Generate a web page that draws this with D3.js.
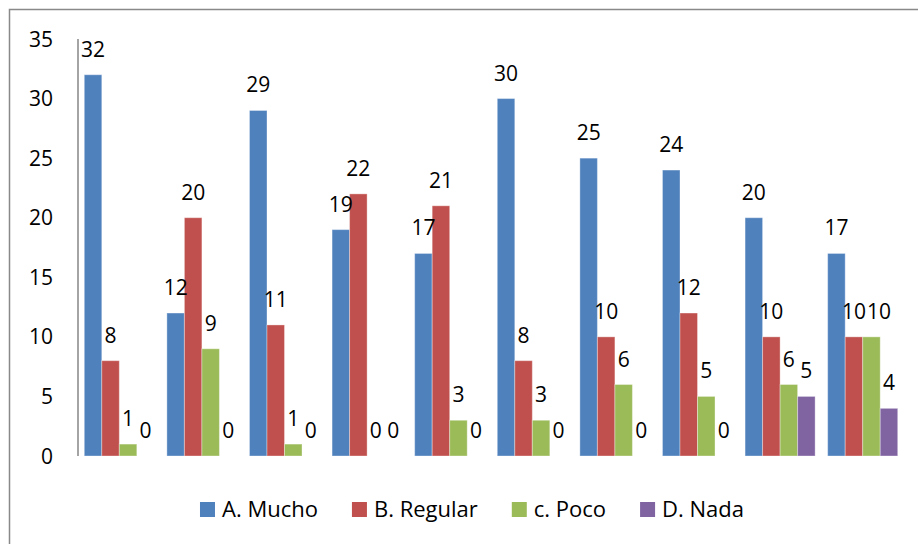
<!DOCTYPE html>
<html>
<head>
<meta charset="utf-8">
<script src="https://cdn.jsdelivr.net/npm/d3@7"></script>
<style>
  html, body { margin: 0; padding: 0; background: #fff; }
  svg { display: block; }
</style>
</head>
<body>
<svg id="chart" width="918" height="544"></svg>
<script>
const groups = ["1", "2", "3", "4", "5", "6", "7", "8", "9", "10"];
const seriesNames = ["A. Mucho", "B. Regular", "c. Poco", "D. Nada"];
const mucho   = [32, 12, 29, 19, 17, 30, 25, 24, 20, 17];
const regular = [8, 20, 11, 22, 21, 8, 10, 12, 10, 10];
const poco    = [1, 9, 1, 0, 3, 3, 6, 5, 6, 10];
const nada    = [0, 0, 0, 0, 0, 0, 0, 0, 5, 4];
const yTicks  = [0, 5, 10, 15, 20, 25, 30, 35];

const seriesValues = [mucho, regular, poco, nada];
const colors = ["#4F81BD", "#C0504D", "#9BBB59", "#8064A2"];
const FONT = "'Open Sans', sans-serif";

const svg = d3.select("#chart");

// outer frame (runs off the right and bottom edges)
svg.append("rect")
    .attr("x", 9.5).attr("y", 9.5)
    .attr("width", 930).attr("height", 560)
    .attr("fill", "none")
    .attr("stroke", "#898989")
    .attr("stroke-width", 1.5);

const x0 = d3.scaleBand().domain(groups).range([78, 904]).paddingInner(0.152).paddingOuter(0.076);
const x1 = d3.scaleBand().domain(d3.range(4)).range([0, x0.bandwidth()]);
const y = d3.scaleLinear().domain([0, 35]).range([456, 39]);

// y tick labels
svg.append("g").selectAll("text")
    .data(yTicks)
    .join("text")
    .attr("x", 53)
    .attr("y", d => y(d))
    .attr("dy", "0.36em")
    .attr("text-anchor", "end")
    .attr("font-family", FONT)
    .attr("font-size", 21)
    .attr("fill", "#000")
    .text(d => d);

// y axis line
svg.append("line")
    .attr("x1", 78).attr("x2", 78)
    .attr("y1", y(35)).attr("y2", y(0))
    .attr("stroke", "#868686")
    .attr("stroke-width", 1.5);

const cells = [];
groups.forEach((g, gi) => {
    seriesValues.forEach((vals, si) => {
        cells.push({ group: g, gi: gi, si: si, value: vals[gi] });
    });
});

svg.append("g").selectAll("rect")
    .data(cells)
    .join("rect")
    .attr("x", d => x0(d.group) + x1(d.si))
    .attr("y", d => y(d.value))
    .attr("width", x1.bandwidth())
    .attr("height", d => y(0) - y(d.value))
    .attr("fill", d => colors[d.si])
    .attr("stroke", "rgba(255,255,255,0.35)")
    .attr("stroke-width", 1);

// data labels, nudged right when they would collide with the previous one
const labelG = svg.append("g");
groups.forEach((g, gi) => {
    let prev = null;
    seriesValues.forEach((vals, si) => {
        const v = vals[gi];
        const cx = x0(g) + x1(si) + x1.bandwidth() / 2;
        const by = y(v) - 18;
        const t = labelG.append("text")
            .attr("x", cx)
            .attr("y", by)
            .attr("text-anchor", "middle")
            .attr("font-family", FONT)
            .attr("font-size", 21)
            .attr("fill", "#000")
            .text(v);
        const w = t.node().getComputedTextLength();
        let left = cx - w / 2;
        if (prev && Math.abs(prev.y - by) < 16 && left < prev.right + 1) {
            left = prev.right + 1;
            t.attr("x", left + w / 2);
        }
        prev = { right: left + w, y: by };
    });
});

// legend
const legend = svg.append("g");
let lx = 0;
const legendGap = 34;
seriesNames.forEach((name, i) => {
    const item = legend.append("g").attr("transform", `translate(${lx},0)`);
    item.append("rect")
        .attr("x", 0).attr("y", 502)
        .attr("width", 15).attr("height", 15)
        .attr("fill", colors[i]);
    const t = item.append("text")
        .attr("x", 22).attr("y", 517)
        .attr("font-family", FONT)
        .attr("font-size", 22)
        .attr("fill", "#000")
        .text(name);
    lx += 22 + t.node().getComputedTextLength() + legendGap;
});
const legendW = lx - legendGap;
legend.attr("transform", `translate(${472 - legendW / 2},0)`);
</script>
</body>
</html>
